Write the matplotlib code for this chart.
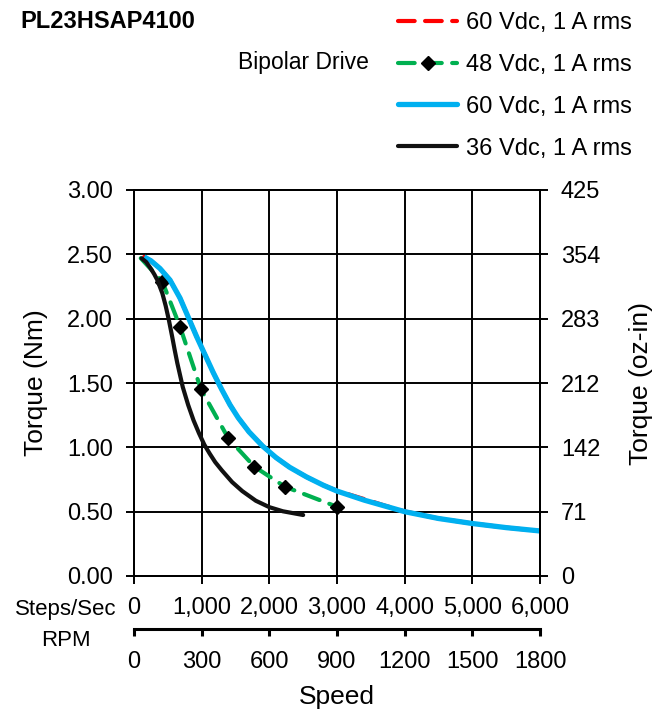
import matplotlib
matplotlib.use("Agg")
import matplotlib.pyplot as plt
from matplotlib.lines import Line2D

plt.rcParams['font.family'] = ['Liberation Sans', 'DejaVu Sans']

# ---------------- data ----------------
title = "PL23HSAP4100"
subtitle = "Bipolar Drive"
legend_labels = ["60 Vdc, 1 A rms", "48 Vdc, 1 A rms", "60 Vdc, 1 A rms", "36 Vdc, 1 A rms"]

# steps/sec vs torque (Nm)
red_x = [150, 250, 384, 532, 680, 803, 926, 1049, 1172, 1296, 1419, 1540, 1700, 1900, 2100, 2300, 2550, 2800, 3000, 3400, 3700, 4000, 4500, 5000, 5500, 6000]
red_y = [2.48, 2.45, 2.39, 2.30, 2.16, 2.01, 1.86, 1.72, 1.58, 1.45, 1.33, 1.23, 1.12, 1.01, 0.92, 0.845, 0.77, 0.705, 0.662, 0.598, 0.548, 0.502, 0.447, 0.408, 0.376, 0.35]

green_x = [100, 419, 680, 990, 1394, 1778, 2231, 2995]
green_y = [2.47, 2.288, 1.938, 1.451, 1.070, 0.850, 0.694, 0.539]

blue_x = [150, 250, 384, 532, 680, 803, 926, 1049, 1172, 1296, 1419, 1540, 1700, 1900, 2100, 2300, 2550, 2800, 3000, 3400, 4000, 4500, 5000, 5500, 6000]
blue_y = [2.48, 2.45, 2.39, 2.30, 2.16, 2.01, 1.86, 1.72, 1.58, 1.45, 1.33, 1.23, 1.12, 1.01, 0.92, 0.845, 0.77, 0.705, 0.66, 0.59, 0.50, 0.447, 0.408, 0.376, 0.35]

black_x = [113, 180, 246, 300, 345, 419, 468, 517, 566, 600, 640, 720, 800, 880, 960, 1040, 1120, 1200, 1300, 1450, 1600, 1800, 2000, 2200, 2500]
black_y = [2.469, 2.44, 2.391, 2.345, 2.30, 2.197, 2.10, 1.985, 1.855, 1.76, 1.655, 1.47, 1.33, 1.21, 1.11, 1.02, 0.95, 0.885, 0.82, 0.73, 0.66, 0.585, 0.535, 0.503, 0.474]

steps_ticks = [0, 1000, 2000, 3000, 4000, 5000, 6000]
steps_labels = ["0", "1,000", "2,000", "3,000", "4,000", "5,000", "6,000"]
rpm_ticks = [0, 300, 600, 900, 1200, 1500, 1800]
nm_ticks = [0.0, 0.5, 1.0, 1.5, 2.0, 2.5, 3.0]
ozin_labels = ["0", "71", "142", "212", "283", "354", "425"]
NM_TO_OZIN = 141.6
STEPS_TO_RPM = 0.3

# ---------------- figure ----------------
W, H = 660, 718
fig = plt.figure(figsize=(W / 100, H / 100), dpi=100)
L, R, T, B = 134, 540, 190, 576
ax = fig.add_axes([L / W, 1 - B / H, (R - L) / W, (B - T) / H])

FS = 17
lw_grid = 1.4

ax.plot(red_x, red_y, color='#FF0000', lw=3, dashes=(4, 2.5), dash_capstyle='round', zorder=3)
ax.plot(green_x, green_y, color='#00B050', lw=3, dashes=(4, 2.5), dash_capstyle='round',
        marker='D', markersize=7, markerfacecolor='black', markeredgecolor='black',
        markevery=list(range(1, len(green_x))), zorder=4)
ax.plot(blue_x, blue_y, color='#00B0F0', lw=3.8, solid_capstyle='butt', solid_joinstyle='round', zorder=5)
ax.plot(black_x, black_y, color='#111111', lw=3, solid_capstyle='round', solid_joinstyle='round', zorder=6)

ax.set_xlim(0, 6000)
ax.set_ylim(0, 3)
ax.set_xticks(steps_ticks)
ax.set_xticklabels(steps_labels)
ax.set_yticks(nm_ticks)
ax.set_yticklabels([f"{v:.2f}" for v in nm_ticks])
ax.grid(True, color='black', lw=lw_grid)
ax.set_axisbelow(True)
for s in ax.spines.values():
    s.set_color('black')
    s.set_linewidth(lw_grid)
ax.tick_params(axis='both', direction='out', length=6, width=lw_grid, labelsize=FS, pad=9, colors='black')

# right axis
ax2 = ax.twinx()
ax2.set_ylim(0, 3 * NM_TO_OZIN)
ax2.set_yticks([v * NM_TO_OZIN for v in nm_ticks])
ax2.set_yticklabels(ozin_labels)
ax2.tick_params(axis='y', direction='out', length=6, width=lw_grid, labelsize=FS, pad=9)
for s in ax2.spines.values():
    s.set_linewidth(lw_grid)

# secondary RPM axis
sec = ax.secondary_xaxis(-53 / (B - T), functions=(lambda s: s * STEPS_TO_RPM, lambda r: r / STEPS_TO_RPM))
sec.set_xticks(rpm_ticks)
sec.set_xticklabels([str(v) for v in rpm_ticks])
sec.spines['bottom'].set_linewidth(2.2)
sec.tick_params(axis='x', direction='out', length=5, width=2.2, labelsize=FS, pad=11)

# texts
fig.text(20 / W, 1 - 21 / H, title, fontsize=FS, fontweight='bold', ha='left', va='center')
fig.text(238 / W, 1 - 62 / H, subtitle, fontsize=16.5, ha='left', va='center')
fig.text(117 / W, 1 - 609 / H, "Steps/Sec", fontsize=16, ha='right', va='center')
fig.text(66 / W, 1 - 641 / H, "RPM", fontsize=16, ha='center', va='center')
fig.text(337 / W, 1 - 697 / H, "Speed", fontsize=19, ha='center', va='center')
fig.text(36 / W, 1 - 383 / H, "Torque (Nm)", fontsize=19, rotation=90, ha='center', va='center')
fig.text(641 / W, 1 - 383 / H, "Torque (oz-in)", fontsize=19, rotation=90, ha='center', va='center')

handles = [
    Line2D([], [], color='#FF0000', lw=3, dashes=(4, 2.5), dash_capstyle='round'),
    Line2D([], [], color='#00B050', lw=3, dashes=(4, 2.5), dash_capstyle='round',
           marker='D', markersize=7, markerfacecolor='black', markeredgecolor='black'),
    Line2D([], [], color='#00B0F0', lw=3.8, solid_capstyle='round'),
    Line2D([], [], color='#111111', lw=3, solid_capstyle='round'),
]
fig.legend(handles, legend_labels, loc='upper left', bbox_to_anchor=(398 / W, 1 - 12 / H),
           frameon=False, fontsize=FS, handlelength=2.5, handletextpad=0.4,
           labelspacing=0.84, borderpad=0, borderaxespad=0)

fig.savefig("out.png", dpi=100)
